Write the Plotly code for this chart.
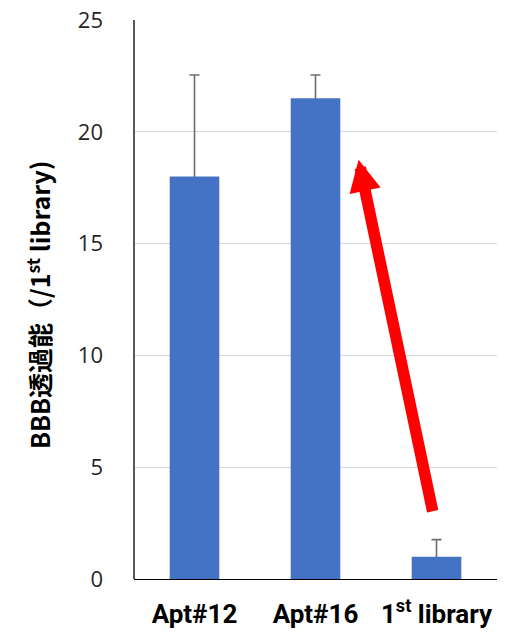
import plotly.graph_objects as go

# Data
categories = ["Apt#12", "Apt#16", "1<sup>st</sup> library"]
values = [18.0, 21.5, 1.0]
errors = [4.54, 1.04, 0.76]
y_ticks = [0, 5, 10, 15, 20, 25]

fig = go.Figure()
# Error bars first (invisible bars), solid bars drawn on top so only the upper half shows
fig.add_trace(go.Bar(
    x=[0, 1, 2], y=values, width=0.41,
    marker=dict(color="rgba(0,0,0,0)", line=dict(width=0)),
    error_y=dict(type="data", array=errors, symmetric=True,
                 color="#6d6d6d", thickness=1.6, width=5),
    hoverinfo="skip",
))
fig.add_trace(go.Bar(
    x=[0, 1, 2], y=values, width=0.41,
    marker=dict(color="#4472C4", line=dict(width=0)),
))

# Red arrow from the library bar up to Apt#16
fig.add_annotation(
    x=1.356, y=18.75, ax=1.971, ay=2.96,
    xref="x", yref="y", axref="x", ayref="y",
    text="", showarrow=True, arrowhead=2, arrowsize=0.55,
    arrowwidth=11.5, arrowcolor="#FF0000", standoff=0,
)

# Y-axis title
fig.add_annotation(
    text="<b>BBB透過能（/1<sup>st</sup> library)</b>",
    xref="paper", yref="paper", x=-0.262, y=0.49,
    xanchor="center", yanchor="middle",
    textangle=-90, showarrow=False,
    font=dict(family="Noto Sans CJK JP, Noto Sans, sans-serif", size=25, color="#000000"),
)

# Axis line
fig.add_shape(type="line", xref="paper", yref="y", x0=0, x1=0, y0=0, y1=25,
              line=dict(color="#000000", width=1.3))

fig.update_layout(
    width=521, height=634,
    margin=dict(l=134, r=24, t=20, b=55, autoexpand=False),
    paper_bgcolor="white", plot_bgcolor="white",
    showlegend=False, barmode="overlay",
    xaxis=dict(
        tickmode="array", tickvals=[0, 1, 2], ticktext=categories,
        range=[-0.5, 2.5], showline=True, linecolor="#000000", linewidth=1.3,
        ticks="", showgrid=False, ticklabelstandoff=12, automargin=False,
        tickfont=dict(family="Roboto, Liberation Sans, sans-serif", size=26,
                      color="#000000", weight="bold"),
    ),
    yaxis=dict(
        range=[0, 25], tickvals=y_ticks, showgrid=True, gridcolor="#d9d9d9", gridwidth=1.2,
        zeroline=False, showline=False, ticks="", ticklabelstandoff=30, automargin=False,
        tickfont=dict(family="Open Sans, Noto Sans, sans-serif", size=22, color="#262626"),
    ),
)

fig.write_html("out.html")
